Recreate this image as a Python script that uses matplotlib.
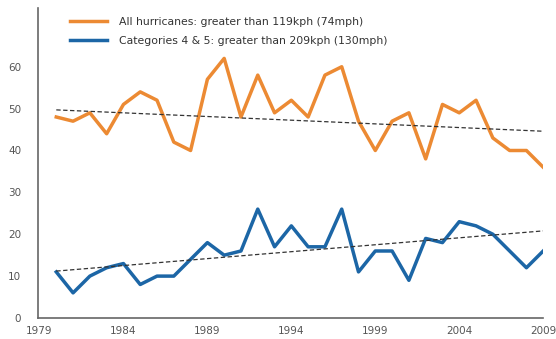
import numpy as np
import matplotlib
matplotlib.use("Agg")
import matplotlib.pyplot as plt

years = list(range(1980, 2010))
all_hurricanes = [48, 47, 49, 44, 51, 54, 52, 42, 40, 57,
                  62, 48, 58, 49, 52, 48, 58, 60, 47, 40,
                  47, 49, 38, 51, 49, 52, 43, 40, 40, 36]
cat45 = [11, 6, 10, 12, 13, 8, 10, 10, 14, 18,
         15, 16, 26, 17, 22, 17, 17, 26, 11, 16,
         16, 9, 19, 18, 23, 22, 20, 16, 12, 16]

# trend line end points
trend_years = [1980, 2009]
trend_all = [49.7, 44.6]
trend_cat45 = [11.2, 20.8]

labels = ["All hurricanes: greater than 119kph (74mph)",
          "Categories 4 & 5: greater than 209kph (130mph)"]

orange = "#EC8A33"
blue = "#1C66A6"
grey = "#555555"

fig = plt.figure(figsize=(5.56, 3.39), dpi=100)
ax = fig.add_axes([0.068, 0.062, 0.909, 0.914])

ax.plot(years, all_hurricanes, color=orange, linewidth=2.5, label=labels[0])
ax.plot(years, cat45, color=blue, linewidth=2.5, label=labels[1])
ax.plot(trend_years, trend_all, color="#333333", linewidth=0.9, linestyle=(0, (3.5, 2)))
ax.plot(trend_years, trend_cat45, color="#333333", linewidth=0.9, linestyle=(0, (3.5, 2)))

ax.set_xlim(1978.9, 2009)
ax.set_ylim(0, 74)
ax.set_xticks([1979, 1984, 1989, 1994, 1999, 2004, 2009])
ax.set_yticks([0, 10, 20, 30, 40, 50, 60])

for side in ["top", "right"]:
    ax.spines[side].set_visible(False)
for side in ["left", "bottom"]:
    ax.spines[side].set_color("#666666")
    ax.spines[side].set_linewidth(1.2)

ax.tick_params(axis="both", length=0, labelsize=7.5, labelcolor=grey)
ax.tick_params(axis="y", pad=12)
ax.tick_params(axis="x", pad=6)

ax.legend(loc="upper left", bbox_to_anchor=(0.045, 1.003), frameon=False,
          fontsize=7.8, labelcolor="#333333", handlelength=3.4,
          handletextpad=1.1, labelspacing=0.85)

fig.savefig("out.png", dpi=100)
